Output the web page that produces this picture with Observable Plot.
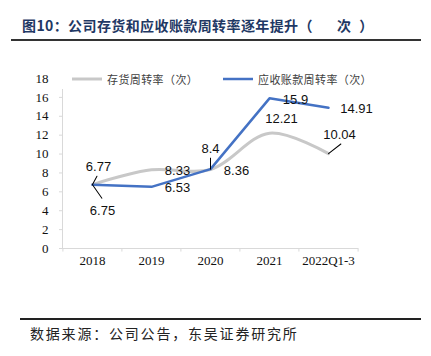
<!DOCTYPE html>
<html>
<head>
<meta charset="utf-8">
<script src="https://cdn.jsdelivr.net/npm/d3@7"></script>
<script src="https://cdn.jsdelivr.net/npm/@observablehq/plot@0.6"></script>
<style>
  html, body { margin: 0; padding: 0; background: #fff; }
  #root { position: relative; width: 431px; height: 356px; overflow: hidden; background: #fff; }
  #chart { position: absolute; left: 0; top: 0; }
  .title { position: absolute; left: 22px; top: 15px; font-family: "Noto Sans CJK SC", sans-serif; font-weight: 700; font-size: 14px; line-height: 20px; color: #1f3864; letter-spacing: 0.4px; white-space: nowrap; }
  .rule-top { position: absolute; left: 11px; top: 39px; width: 410px; height: 2px; background: #333; }
  .rule-bottom { position: absolute; left: 20px; top: 318px; width: 401px; height: 1.5px; background: #222; }
  .source { position: absolute; left: 30px; top: 323px; font-family: "Noto Sans CJK SC", sans-serif; font-size: 14px; line-height: 20px; color: #222; letter-spacing: 1.8px; white-space: nowrap; }
  .legend { position: absolute; left: 57px; top: 68px; width: 325px; height: 21px; background: #fff; }
  .legend .item { position: absolute; top: 0; height: 21px; display: flex; align-items: center; font-family: "Noto Sans CJK SC", sans-serif; font-size: 11px; color: #404040; white-space: nowrap; letter-spacing: 0.4px; }
  .legend .swatch { width: 30px; margin-right: 5px; }
</style>
</head>
<body>
<div id="root">
  <div id="chart"></div>
  <div class="legend" id="legend"></div>
  <div class="title">图10：公司存货和应收账款周转率逐年提升<span style="margin-right:24px">（</span><span style="margin-right:8px">次</span>）</div>
  <div class="rule-top"></div>
  <div class="rule-bottom"></div>
  <div class="source">数据来源：公司公告，东吴证券研究所</div>
</div>
<script>
// ---- data ----
const categories = ["2018", "2019", "2020", "2021", "2022Q1-3"];
const inventoryTurnover = [6.77, 8.33, 8.36, 12.21, 10.04];
const receivableTurnover = [6.75, 6.53, 8.4, 15.9, 14.91];
const seriesNames = ["存货周转率（次）", "应收账款周转率（次）"];
const yTicks = [0, 2, 4, 6, 8, 10, 12, 14, 16, 18];

// ---- layout / style ----
const W = 431, H = 356;
const margin = {top: 78, right: 73, bottom: 108, left: 62};
const colors = ["#c8c8c8", "#4472c4"];
const step = (W - margin.left - margin.right) / categories.length;
// label offsets in pixels relative to each data point
const invLabelOffsets = [[6, -18], [26, 1], [26, 1], [12, -14], [11, -19]];
const recLabelOffsets = [[10, 26], [26, 1], [0, -20], [26, 1], [28, 1]];
// leader lines: [length px, rotation deg] or null
const invLeaders = [[9.5, 28], null, null, null, [15.7, 52]];
const recLeaders = [[16.4, 145], null, [11, 0], null, null];

const inv = categories.map((c, i) => ({cat: c, value: inventoryTurnover[i], series: seriesNames[0]}));
const rec = categories.map((c, i) => ({cat: c, value: receivableTurnover[i], series: seriesNames[1]}));

const lineShape = {draw(context, l) { context.moveTo(0, 0); context.lineTo(0, -l); }};

const labelFont = {fontFamily: "Liberation Sans, Arial, sans-serif", fontSize: 13, fill: "#111"};

const labelMarks = [];
[[inv, invLabelOffsets, invLeaders], [rec, recLabelOffsets, recLeaders]].forEach(([rows, offs, leaders]) => {
  rows.forEach((d, i) => {
    labelMarks.push(Plot.text([d], {x: "cat", y: "value", text: (r) => String(r.value), dx: offs[i][0], dy: offs[i][1], ...labelFont}));
    if (leaders[i]) {
      labelMarks.push(Plot.vector([d], {x: "cat", y: "value", length: leaders[i][0], rotate: leaders[i][1], anchor: "start", shape: lineShape, stroke: "#000", strokeWidth: 1}));
    }
  });
});

const chart = Plot.plot({
  width: W,
  height: H,
  marginTop: margin.top,
  marginRight: margin.right,
  marginBottom: margin.bottom,
  marginLeft: margin.left,
  style: {background: "transparent", fontFamily: "Liberation Serif, Times New Roman, serif", fontSize: "13px"},
  x: {type: "point", domain: categories, padding: 0.5, label: null},
  y: {domain: [0, 18], label: null},
  marks: [
    Plot.frame({anchor: "left", stroke: "#d9d9d9"}),
    Plot.ruleY([0], {stroke: "#d9d9d9"}),
    Plot.ruleX(categories, {x: (d) => d, dx: -step / 2, y1: 0, y2: -0.38, stroke: "#d9d9d9"}),
    Plot.ruleX(categories.slice(-1), {x: (d) => d, dx: step / 2, y1: 0, y2: -0.38, stroke: "#d9d9d9"}),
    Plot.axisY({ticks: yTicks, tickSize: 3, tickPadding: 11, stroke: "#d9d9d9", fill: "#111", fontSize: 13, fontFamily: "Liberation Serif, Times New Roman, serif", label: null}),
    Plot.axisX({tickSize: 0, tickPadding: 7, fill: "#111", fontSize: 13, fontFamily: "Liberation Serif, Times New Roman, serif", label: null}),
    Plot.line(inv, {x: "cat", y: "value", stroke: colors[0], strokeWidth: 3, curve: "catmull-rom"}),
    Plot.line(rec, {x: "cat", y: "value", stroke: colors[1], strokeWidth: 2.5}),
    ...labelMarks
  ]
});
document.getElementById("chart").appendChild(chart);

// legend
const legend = document.getElementById("legend");
const legendX = [15, 166];
seriesNames.forEach((name, i) => {
  const item = document.createElement("div");
  item.className = "item";
  item.style.left = legendX[i] + "px";
  item.innerHTML = `<svg class="swatch" width="30" height="6"><line x1="0" x2="30" y1="3" y2="3" stroke="${colors[i]}" stroke-width="${i === 0 ? 3 : 2.5}"/></svg><span>${name}</span>`;
  legend.appendChild(item);
});
</script>
</body>
</html>
